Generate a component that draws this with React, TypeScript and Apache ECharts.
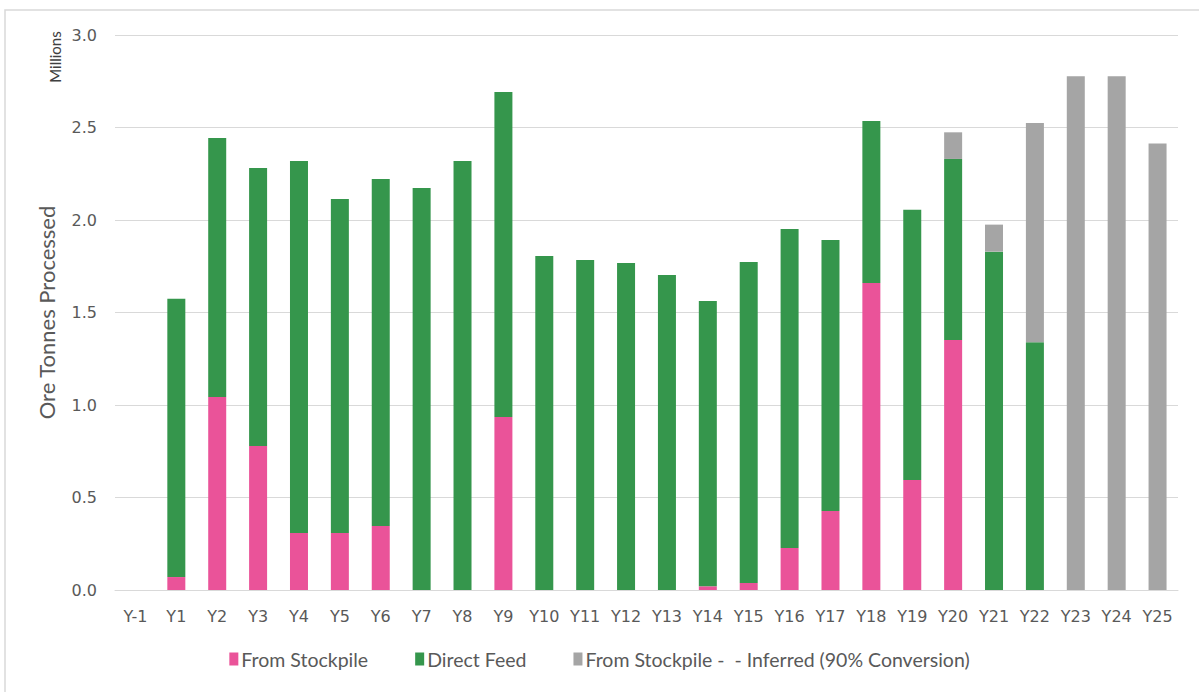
import React, { useEffect, useRef } from "react";
import * as echarts from "echarts";

const categories = ["Y-1","Y1","Y2","Y3","Y4","Y5","Y6","Y7","Y8","Y9","Y10","Y11","Y12","Y13","Y14","Y15","Y16","Y17","Y18","Y19","Y20","Y21","Y22","Y23","Y24","Y25"];
const fromStockpile = [0, 0.07, 1.043, 0.778, 0.308, 0.308, 0.346, 0, 0, 0.935, 0, 0, 0, 0, 0.02, 0.038, 0.227, 0.427, 1.659, 0.595, 1.351, 0, 0, 0, 0, 0];
const directFeed = [0, 1.505, 1.4, 1.503, 2.011, 1.806, 1.876, 2.173, 2.319, 1.757, 1.805, 1.784, 1.768, 1.703, 1.542, 1.735, 1.724, 1.465, 0.876, 1.461, 0.979, 1.829, 1.339, 0, 0, 0];
const inferred = [0, 0, 0, 0, 0, 0, 0, 0, 0, 0, 0, 0, 0, 0, 0, 0, 0, 0, 0, 0, 0.144, 0.146, 1.185, 2.777, 2.777, 2.414];
const yTicks = { min: 0, max: 3, interval: 0.5 };

const PINK = "#EA5399";
const GREEN = "#35964C";
const GRAY = "#A5A5A5";
const TEXT = "#595959";

export default function App() {
  const ref = useRef<HTMLDivElement>(null);
  useEffect(() => {
    const chart = echarts.init(ref.current!, null, { renderer: "svg" });
    const barCommon = { type: "bar", stack: "total", barWidth: 18 };
    chart.setOption({
      animation: false,
      backgroundColor: "#ffffff",
      grid: { left: 115, right: 21, top: 35, bottom: 102 },
      graphic: [
        {
          type: "rect",
          shape: { x: 5, y: 10, width: 1250, height: 760 },
          style: { fill: "none", stroke: "#d9d9d9", lineWidth: 1.5 },
          silent: true,
        },
        {
          type: "text",
          x: 55,
          y: 57,
          rotation: Math.PI / 2,
          style: {
            text: "Millions",
            font: "15px Lato",
            fill: "#404040",
            align: "center",
            verticalAlign: "middle",
          },
        },
      ],
      legend: {
        bottom: 18,
        left: "center",
        itemWidth: 9,
        itemHeight: 13,
        itemGap: 47,
        icon: "rect",
        textStyle: { fontFamily: "Lato", fontSize: 19.5, color: TEXT, padding: [0, 0, 0, -2] },
        data: ["From Stockpile", "Direct Feed", "From Stockpile -  - Inferred (90% Conversion)"],
      },
      xAxis: {
        type: "category",
        data: categories,
        axisLine: { lineStyle: { color: "#d9d9d9", width: 1 } },
        axisTick: { show: false },
        axisLabel: { fontFamily: "DejaVu Sans", fontSize: 16, color: TEXT, margin: 18 },
      },
      yAxis: {
        type: "value",
        min: yTicks.min,
        max: yTicks.max,
        interval: yTicks.interval,
        name: "Ore Tonnes Processed",
        nameLocation: "middle",
        nameGap: 58,
        nameTextStyle: { fontFamily: "Lato", fontSize: 22, color: TEXT },
        axisLabel: {
          fontFamily: "DejaVu Sans",
          fontSize: 16,
          color: TEXT,
          margin: 18,
          formatter: (v: number) => v.toFixed(1),
        },
        splitLine: { lineStyle: { color: "#d9d9d9", width: 1 } },
        axisLine: { show: false },
        axisTick: { show: false },
      },
      series: [
        { ...barCommon, name: "From Stockpile", data: fromStockpile, itemStyle: { color: PINK } },
        { ...barCommon, name: "Direct Feed", data: directFeed, itemStyle: { color: GREEN } },
        { ...barCommon, name: "From Stockpile -  - Inferred (90% Conversion)", data: inferred, itemStyle: { color: GRAY } },
      ],
    });
    return () => chart.dispose();
  }, []);
  return (
    <div
      ref={ref}
      style={{ position: "fixed", left: 0, top: 0, width: 1199, height: 692 }}
    />
  );
}
